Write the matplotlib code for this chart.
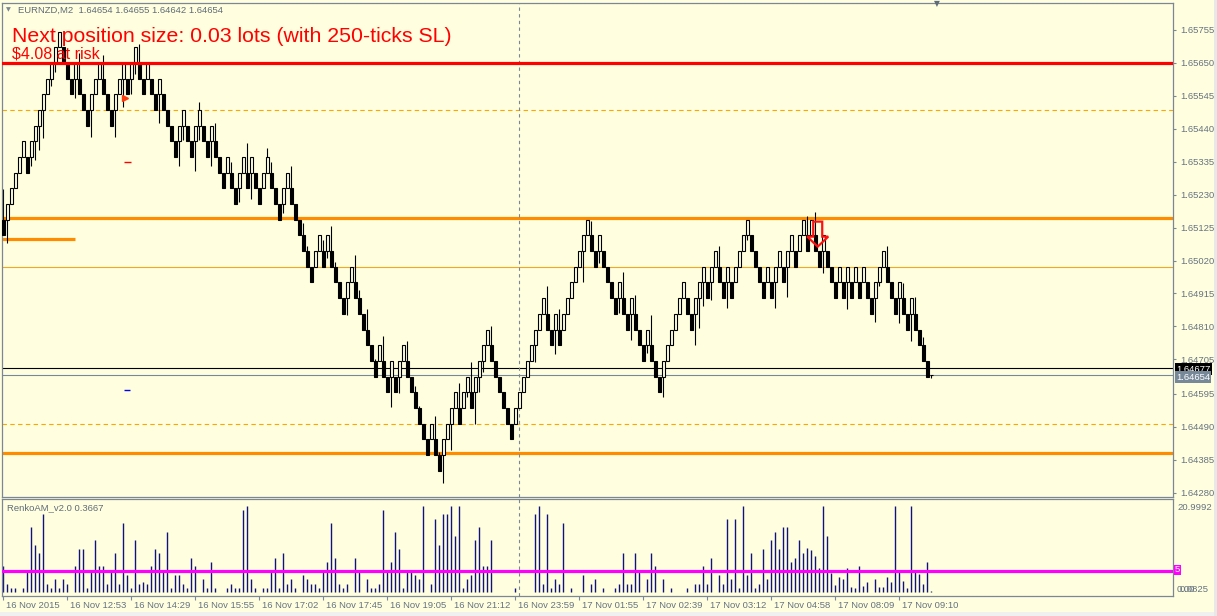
import matplotlib
matplotlib.use("Agg")
import matplotlib.pyplot as plt
from matplotlib.patches import Polygon, Rectangle
from matplotlib.transforms import blended_transform_factory, ScaledTranslation

plt.rcParams['font.family'] = ['Liberation Sans', 'DejaVu Sans']

# ---------------- data ----------------
header = "EURNZD,M2  1.64654 1.64655 1.64642 1.64654"
lots_text = "Next position size: 0.03 lots (with 250-ticks SL)"
risk_text = "$4.08 at risk"
indicator_name = "RenkoAM_v2.0 0.3667"

BASE = 1.65000     # price of level 0
BRICK = 0.0005     # renko box size

# bottom of each brick body, in bricks from BASE
brick_level = [
    2, 3, 4, 5, 6, 7, 6, 7, 8, 9, 10, 11, 12, 13, 14, 13, 12, 11, 12, 11,
    10, 9, 10, 11, 12, 11, 10, 9, 10, 11, 12, 11, 12, 13, 12, 11, 12, 11, 10, 11,
    10, 9, 8, 7, 8, 9, 8, 7, 8, 9, 8, 7, 8, 7, 6, 5, 6, 5, 4, 5,
    6, 5, 6, 5, 4, 5, 6, 5, 4, 3, 4, 5, 4, 3, 2, 1, 0, -1, 0, 1,
    0, 1, 0, -1, -2, -3, -2, -1, -2, -3, -4, -5, -6, -7, -6, -7, -8, -7, -8, -7,
    -6, -7, -8, -9, -10, -11, -12, -11, -12, -13, -12, -11, -10, -9, -10, -9, -8, -9, -8, -7,
    -6, -5, -6, -7, -8, -9, -10, -11, -10, -9, -8, -7, -6, -5, -4, -3, -4, -5, -4, -5,
    -4, -3, -2, -1, 0, 1, 2, 1, 0, 1, 0, -1, -2, -3, -2, -3, -4, -3, -4, -5,
    -6, -5, -6, -7, -8, -7, -6, -5, -4, -3, -2, -3, -4, -3, -2, -1, -2, -1, 0, -1,
    -2, -1, -2, -1, 0, 1, 2, 1, 0, -1, -2, -1, -2, -1, 0, -1, 0, 1, 0, 1,
    2, 1, 2, 1, 0, 1, 0, -1, -2, -1, -2, -1, -2, -1, -2, -1, -2, -3, -2, -1,
    0, -1, -2, -3, -2, -3, -4, -3, -4, -5, -6, -7,
]
brick_dir = ("D UUUUU D UUUUUUUU DDD U DDD UUU DDD UUU D UU DD U DD U DDDD UU DD UU DD U DDD U DD "
             "UU D U DD UU DDD UU DDDDDD UU D U DDDD UU DDDDDD U DD U D UU DDDDDD U DD UUUU D UU D "
             "UUUU DDDDDD UUUUUUUU DD U D UUUUUUU DD U DDDD U DD U DDD U DDD UUUUUU DD UUU D UU DD "
             "U D UUUU DDDD U D UU D UU D UU D U DD U DDD U D U D U D U DD UUU DDD U DD U DDDD").replace(" ", "")

# shadow extremes in bricks from BASE: {bar index: level}
wick_high = {0: 4.95, 19: 13.6, 25: 13.5, 34: 14.2, 49: 10.5, 53: 9.15, 57: 6.7, 61: 7.9,
             66: 7.6, 67: 6.7, 72: 6.4, 75: 2.8, 76: 1.3, 80: 1.7, 82: 2.6, 83: 0.3,
             88: 0.75, 89: -1.45, 91: -2.7, 93: -5.9, 95: -4.4, 101: -4.7, 103: -7.6,
             104: -8.85, 108: -9.5, 109: -11.8, 114: -7.4, 117: -6.1, 122: -3.75,
             136: -1.2, 139: -2.7, 147: 2.95, 155: -0.36, 158: -1.8, 162: -3.05,
             179: 1.3, 201: 3.25, 203: 3.5, 221: 1.3, 225: -1.05, 228: -1.9, 230: -4.45}
wick_low = {1: 1.5, 7: 6.4, 8: 6.8, 9: 7.45, 10: 8.2, 12: 11.5, 13: 12.4, 18: 10.75,
            22: 8.3, 28: 8.3, 30: 10.2, 32: 11.0, 33: 12.3, 39: 9.15, 44: 6.4, 45: 8.1,
            48: 6.1, 49: 8.1, 52: 6.4, 59: 4.1, 62: 4.3, 70: 3.4, 81: 0.55, 86: -3.1,
            97: -8.95, 99: -8.05, 110: -13.8, 112: -11.7, 116: -8.3, 118: -10.0,
            119: -8.0, 120: -6.7, 133: -6.1, 138: -5.55, 145: -1.0, 149: 0.23,
            154: -2.95, 157: -4.65, 161: -5.5, 165: -8.3, 173: -5.0, 174: -3.9,
            175: -2.5, 177: -2.1, 181: -2.6, 186: 1.7, 193: -2.6, 196: -1.9,
            205: -0.4, 211: -2.7, 218: -3.55, 219: -1.25, 224: -3.6, 227: -4.75}

last_price = 1.64654
ask_price = 1.64677

# RenkoAM histogram, one value per bar (last one is the forming bar)
renko_am = [
    6.3, 1.8, 0.8, 0.8, 0, 0.8, 5.3, 15.9, 11.4, 9.5,
    19.0, 1.8, 0.8, 3.0, 0.8, 3.0, 1.8, 0, 6.3, 10.3,
    10.3, 0.8, 5.3, 12.6, 6.3, 6.3, 1.8, 5.3, 9.5, 1.8,
    16.8, 4.1, 0.8, 12.6, 1.8, 2.4, 1.8, 6.3, 10.3, 9.5,
    5.3, 14.6, 0.8, 4.1, 4.1, 1.8, 0.8, 8.1, 6.3, 0,
    3.0, 0.8, 7.3, 0.8, 0, 0, 0.8, 1.8, 0.8, 0.8,
    19.9, 21.0, 3.0, 0.8, 0, 0.8, 0.8, 5.3, 8.1, 0.8,
    9.5, 1.8, 3.0, 0.8, 0, 4.1, 3.0, 1.8, 1.8, 0.8,
    5.3, 7.3, 16.8, 8.1, 1.8, 0.8, 1.8, 0, 8.1, 5.3,
    0, 3.0, 0.8, 0.8, 1.8, 19.9, 5.3, 7.3, 14.6, 10.3,
    0.8, 5.3, 5.3, 4.1, 3.0, 21.0, 0, 1.8, 17.7, 11.4,
    19.0, 19.0, 21.0, 13.6, 21.0, 0.8, 3.0, 4.1, 12.6, 15.7,
    6.3, 6.3, 12.6, 0, 0, 0, 0, 0, 0.8, 0,
    0, 0, 0, 19.0, 21.0, 1.8, 19.0, 0.8, 3.0, 1.8,
    16.8, 0, 0.8, 0, 0, 4.1, 0, 1.8, 3.0, 0,
    0.8, 0, 0, 0.8, 1.8, 9.4, 1.8, 1.8, 9.4, 5.3,
    0, 3.0, 9.4, 6.3, 0, 3.0, 0, 0.8, 0, 0,
    0, 0.8, 0, 1.8, 1.8, 6.3, 1.8, 8.1, 0, 4.1,
    1.8, 17.7, 3.0, 17.7, 0.8, 21.0, 4.1, 9.5, 0.8, 1.8,
    10.3, 3.0, 12.6, 14.5, 10.3, 15.7, 15.7, 7.3, 8.1, 12.6,
    9.4, 10.6, 10.2, 8.7, 5.7, 21.0, 13.6, 4.6, 1.6, 3.5,
    3.0, 5.7, 1.2, 1.0, 6.3, 1.4, 2.4, 0, 3.0, 1.1,
    1.1, 3.5, 2.4, 21.0, 5.3, 2.7, 0.8, 21.0, 5.3, 4.3,
    1.8, 7.3, 0.2,
]
am_level = 5
am_max_label, am_min_label = "20.9992", "0.0825"

price_ticks = [1.65755, 1.65650, 1.65545, 1.65440, 1.65335, 1.65230, 1.65125, 1.65020,
               1.64915, 1.64810, 1.64705, 1.64595, 1.64490, 1.64385, 1.64280]
time_tick_bars = list(range(0, 232, 16))
time_labels = ["16 Nov 2015", "16 Nov 12:53", "16 Nov 14:29", "16 Nov 15:55", "16 Nov 17:02",
               "16 Nov 17:45", "16 Nov 19:05", "16 Nov 21:12", "16 Nov 23:59", "17 Nov 01:55",
               "17 Nov 02:39", "17 Nov 03:12", "17 Nov 04:58", "17 Nov 08:09", "17 Nov 09:10"]

stop_line = 1.65650          # red
sr_lines = [1.65156, 1.64406]  # thick orange
dashed_lines = [1.65500, 1.64500]
round_line = 1.65000
short_line = (1.65089, 0, 18)  # price, from bar, to bar
separator_bar = 129
signal_bar, signal_price = 203.6, 1.65144   # red sell arrow
mark_bar = 30.5
mark_prices = {'arrow': 1.65538, 'red': 1.65334, 'blue': 1.64607}

# ---------------- layout ----------------
W, H = 1217, 616
BG = '#FFFFE0'
FRAME = '#7b8794'
LABEL = '#66727f'
PPU = 31369.0          # pixels per price unit
Y_1650 = 266.8         # pixel row of 1.65000


def fx(px):
    return px / W


def fy(py):
    return 1 - py / H


def price_at(py):
    return BASE + (Y_1650 - py) / PPU


def bar_at(px):
    return (px - 3.33) / 4.0


fig = plt.figure(figsize=(W / 100, H / 100), dpi=100, facecolor=BG)
ax = fig.add_axes([fx(2.3), fy(497.3), fx(1173.3) - fx(2.3), fy(3.3) - fy(497.3)])
axs = fig.add_axes([fx(2.3), fy(596), fx(1173.3) - fx(2.3), fy(499.3) - fy(596)])
for a in (ax, axs):
    a.set_facecolor(BG)
    a.set_xlim(bar_at(2.3), bar_at(1173.3))
    for s in a.spines.values():
        s.set_color(FRAME)
        s.set_linewidth(0.9)
ax.set_ylim(price_at(497.3), price_at(3.3))

# horizontal levels
ax.axhline(round_line, color='#F5A623', lw=0.8, zorder=1)
for p in dashed_lines:
    ax.axhline(p, color='#FFA500', lw=0.8, ls=(0, (4, 3)), zorder=1)
for p in sr_lines:
    ax.axhline(p, color='#FF8C00', lw=2.3, zorder=1)
ax.hlines(short_line[0], short_line[1] - 0.6, short_line[2], color='#FF8C00', lw=2.3, zorder=1)
ax.axhline(ask_price, color='black', lw=0.8, zorder=1)
ax.axhline(last_price, color='#778899', lw=0.8, zorder=1)
ax.axvline(separator_bar, color=FRAME, lw=0.8, ls=(0, (3, 3)), zorder=1)
axs.axvline(separator_bar, color=FRAME, lw=0.8, ls=(0, (3, 3)), zorder=1)

# renko bricks
idx = list(range(len(brick_level)))
bottoms = [BASE + BRICK * l for l in brick_level]
for i, d in zip(idx, brick_dir):
    lo = bottoms[i]
    if i in wick_high:
        ax.vlines(i, lo + BRICK, BASE + BRICK * wick_high[i], color='black', lw=0.8, zorder=2)
    if i in wick_low:
        ax.vlines(i, BASE + BRICK * wick_low[i], lo, color='black', lw=0.8, zorder=2)
faces = [BG if d == 'U' else 'black' for d in brick_dir]
ax.bar(idx, BRICK, bottom=bottoms, width=0.78, color=faces, edgecolor='black',
       linewidth=0.8, zorder=3)
# forming bar
n = len(brick_level)
ax.vlines(n, last_price - 0.00009, last_price, color='black', lw=0.8, zorder=3)
ax.hlines(last_price, n - 0.4, n + 0.4, color='black', lw=0.8, zorder=3)

ax.axhline(stop_line, color='#FF0000', lw=2.3, zorder=4)

# sell arrow (outline), built from pixel offsets around the signal point
sx, sy = 1 / 4.0, 1 / PPU
arrow = [(-4.5, 0), (4.5, 0), (4.5, 15), (10.5, 15), (0, 25), (-10.5, 15), (-4.5, 15)]
pts = [(signal_bar + dx * sx, signal_price - dy * sy) for dx, dy in arrow]
ax.add_patch(Polygon(pts, closed=True, fill=False, ec='#FF1010', lw=1.6, zorder=5))

# small object marks
ax.plot([mark_bar], [mark_prices['arrow']], marker='>', ms=4, color='#FF3B10', zorder=5)
ax.hlines(mark_prices['red'], mark_bar - 0.3, mark_bar + 1.5, color='red', lw=1.0, zorder=5)
ax.hlines(mark_prices['blue'], mark_bar - 0.3, mark_bar + 1.2, color='blue', lw=1.0, zorder=5)

# price scale
ax.yaxis.tick_right()
ax.set_yticks(price_ticks)
ax.set_yticklabels([f"{p:.5f}" for p in price_ticks])
ax.tick_params(axis='y', length=2.3, width=0.8, color=FRAME, labelcolor=LABEL,
               labelsize=6.8, pad=2.6)
ax.set_xticks([])

# price boxes
fig.text(fx(1176), fy(369), f"{ask_price:.5f}", color='white', fontsize=6.8, va='center',
         ha='left', bbox=dict(boxstyle='square,pad=0.12', fc='black', ec='none'))
fig.text(fx(1176), fy(377), f"{last_price:.5f}", color='white', fontsize=6.8, va='center',
         ha='left', bbox=dict(boxstyle='square,pad=0.12', fc='#778899', ec='none'))

# texts in main window
fig.text(fx(8), fy(10), "\u25BC", color='#7b8794', fontsize=4.5, ha='center', va='center',
         family='DejaVu Sans')
fig.text(fx(18), fy(10), header, color='#5f6b78', fontsize=6.8, ha='left', va='center')
fig.text(fx(937), fy(4), "\u25BC", color='#5f6b78', fontsize=5.5, ha='center', va='center',
         family='DejaVu Sans')
fig.text(fx(12), fy(41.5), lots_text, color='#FF0000', fontsize=15.3, ha='left', va='baseline')
fig.text(fx(12), fy(58.5), risk_text, color='#FF0000', fontsize=11.5, ha='left', va='baseline')

# indicator window
axs.set_ylim(-1.05, 22.54)
axs.vlines(range(len(renko_am)), 0, renko_am, color='#12127a', lw=1.0, zorder=2)
axs.axhline(am_level, color='#FF00FF', lw=2.3, zorder=3)
axs.set_yticks([])
axs.set_xticks(time_tick_bars)
axs.set_xticklabels([])
axs.tick_params(axis='x', length=3, width=0.8, color=FRAME, direction='out')
fig.text(fx(7), fy(508), indicator_name, color='#5f6b78', fontsize=6.8, ha='left', va='center')
fig.text(fx(1177), fy(507), am_max_label, color=LABEL, fontsize=6.8, ha='left', va='center')
fig.text(fx(1177), fy(590), "0.00", color=LABEL, fontsize=6.8, ha='left', va='center')
fig.text(fx(1180), fy(590), am_min_label, color=LABEL, fontsize=6.8, ha='left', va='center')
fig.text(fx(1175), fy(570), str(am_level), color='white', fontsize=6.8, ha='left', va='center',
         bbox=dict(boxstyle='square,pad=0.1', fc='#FF00FF', ec='none'))

# time scale
off = ScaledTranslation(3 / 100, -9 / 100, fig.dpi_scale_trans)
tr = blended_transform_factory(axs.transData, axs.transAxes) + off
for b, lab in zip(time_tick_bars, time_labels):
    axs.text(b, 0, lab, transform=tr, color=LABEL, fontsize=6.8, ha='left', va='center',
             clip_on=False)

# window frame strips
fig.patches.append(Rectangle((0, 0), 1, fy(612), transform=fig.transFigure, fc='#F0F0F0',
                             ec='none', zorder=-1))
fig.patches.append(Rectangle((fx(1214), 0), 1, 1, transform=fig.transFigure, fc='#E8E8E8',
                             ec='none', zorder=-1))

fig.savefig("out.png", dpi=100, facecolor=BG)
